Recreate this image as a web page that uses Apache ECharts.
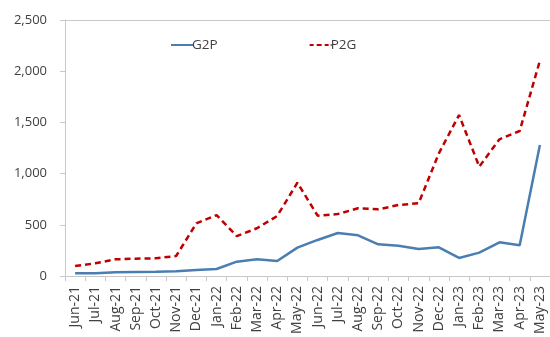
<!DOCTYPE html>
<html>
<head>
<meta charset="utf-8">
<script src="https://cdn.jsdelivr.net/npm/echarts@6/dist/echarts.min.js"></script>
<style>
  html, body { margin: 0; padding: 0; background: #fff; }
  #chart { width: 550px; height: 337px; }
</style>
</head>
<body>
<div id="chart"></div>
<script>
// Monthly values, Jun-21 to May-23
const months = ['Jun-21','Jul-21','Aug-21','Sep-21','Oct-21','Nov-21','Dec-21','Jan-22','Feb-22','Mar-22','Apr-22','May-22',
                'Jun-22','Jul-22','Aug-22','Sep-22','Oct-22','Nov-22','Dec-22','Jan-23','Feb-23','Mar-23','Apr-23','May-23'];
const g2p = [26, 27, 36, 39, 42, 46, 59, 68, 140, 163, 146, 277, 352, 420, 397, 309, 296, 264, 280, 176, 228, 329, 300, 1279];
const p2g = [98, 124, 163, 169, 173, 195, 514, 595, 390, 466, 586, 911, 589, 605, 661, 651, 693, 710, 1198, 1572, 1068, 1335, 1416, 2103];
const yTicks = [0, 500, 1000, 1500, 2000, 2500];

const font = "'Open Sans', 'Noto Sans', sans-serif";
const textColor = '#404040';
const axisColor = '#c8c8c8';

const chart = echarts.init(document.getElementById('chart'));
chart.setOption({
  animation: false,
  textStyle: { fontFamily: font },
  grid: { left: 65, top: 20, width: 487, bottom: 61 },
  legend: {
    left: 166,
    top: 33,
    itemWidth: 22,
    itemHeight: 10,
    itemGap: 92,
    textStyle: { fontSize: 13.5, color: textColor, fontFamily: font, padding: [0, 0, 0, -6] },
    data: [
      { name: 'G2P', icon: 'path://M0,4L22,4L22,6L0,6Z' },
      { name: 'P2G', icon: 'path://M0,4L4,4L4,6L0,6ZM7,4L12,4L12,6L7,6ZM15,4L19,4L19,6L15,6ZM21,4L22,4L22,6L21,6Z' }
    ]
  },
  xAxis: [{
    type: 'category',
    data: months,
    boundaryGap: true,
    axisLine: { lineStyle: { color: axisColor, width: 1 } },
    axisTick: { show: true, length: 5, lineStyle: { color: axisColor } },
    axisLabel: { rotate: 90, fontSize: 14, color: textColor, margin: 10, interval: 0 }
  }, {
    type: 'category',
    position: 'top',
    data: months,
    axisLine: { show: true, lineStyle: { color: axisColor, width: 1 } },
    axisTick: { show: false },
    axisLabel: { show: false }
  }],
  yAxis: {
    type: 'value',
    min: yTicks[0],
    max: yTicks[yTicks.length - 1],
    interval: 500,
    axisLine: { show: true, lineStyle: { color: axisColor, width: 1 } },
    axisTick: { show: true, length: 5, lineStyle: { color: axisColor } },
    splitLine: { show: false },
    axisLabel: {
      fontSize: 13, color: textColor, margin: 18,
      formatter: v => v.toLocaleString('en-US')
    }
  },
  series: [{
    name: 'G2P',
    type: 'line',
    data: g2p,
    symbol: 'none',
    color: '#4a7eb1',
    lineStyle: { color: '#4a7eb1', width: 2.5 }
  }, {
    name: 'P2G',
    type: 'line',
    data: p2g,
    symbol: 'none',
    color: '#c00000',
    lineStyle: { color: '#c00000', width: 2.5, type: [6, 4] }
  }]
});
</script>
</body>
</html>
